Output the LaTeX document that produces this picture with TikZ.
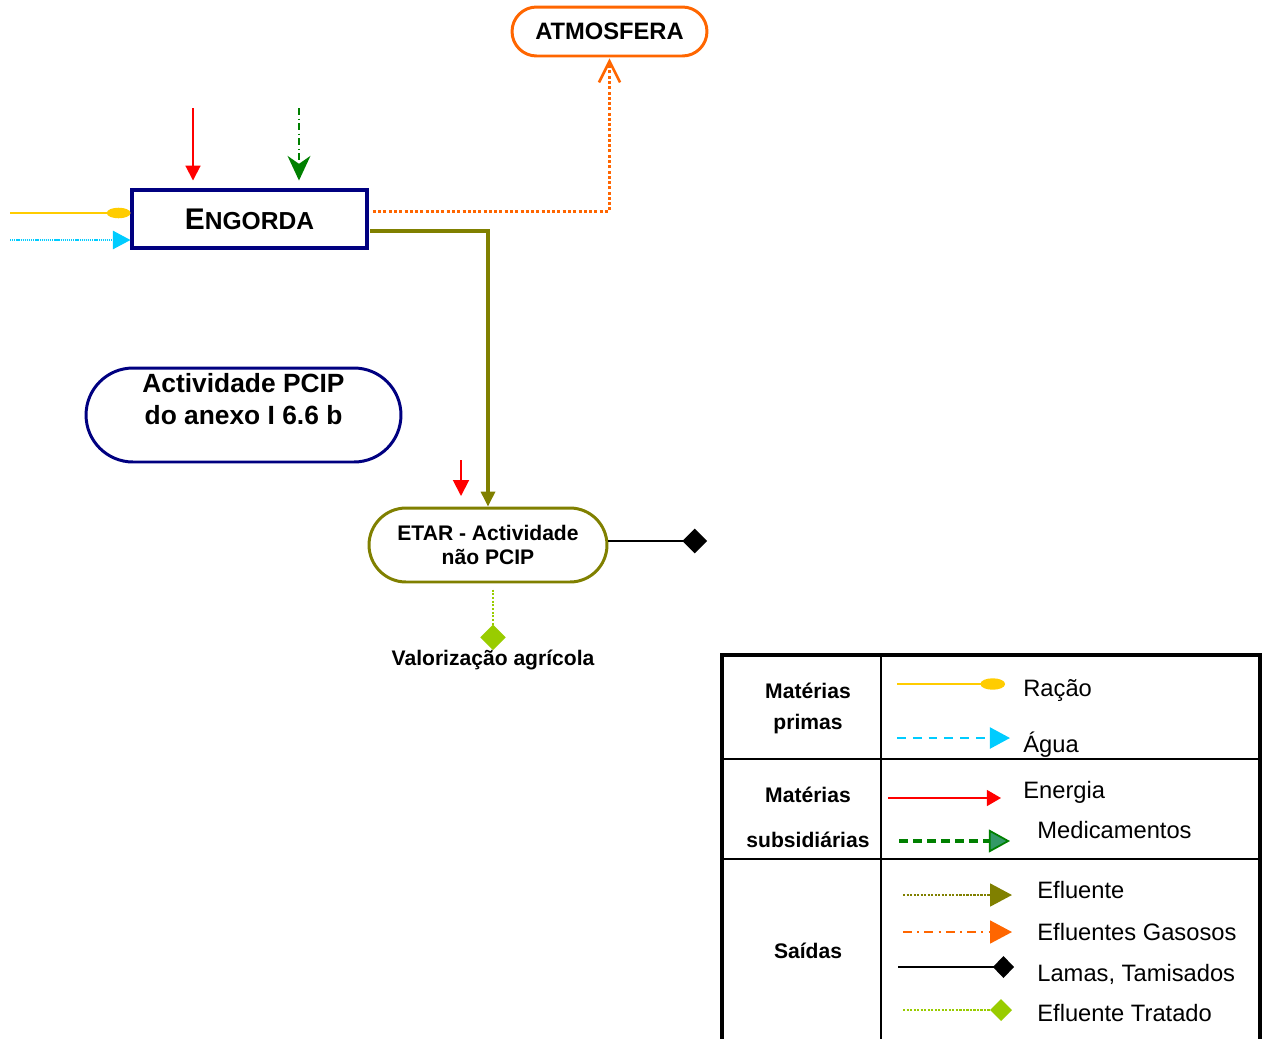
\documentclass[tikz,border=0pt]{standalone}
\usepackage{fontspec}
\setmainfont{Liberation Sans}
\usetikzlibrary{arrows.meta,positioning,shapes.misc}
\definecolor{NavyLine}{HTML}{000080}
\definecolor{GasOrange}{HTML}{FF6600}
\definecolor{EffOlive}{HTML}{808000}
\definecolor{FeedGold}{HTML}{FFCC00}
\definecolor{WaterCyan}{HTML}{00CCFF}
\definecolor{MedGreen}{HTML}{008000}
\definecolor{MedFill}{HTML}{339966}
\definecolor{TreatedGreen}{HTML}{99CC00}

\begin{document}
\begin{tikzpicture}[x=0.02cm, y=-0.02cm, every node/.style={font=\bfseries, align=center, inner sep=0pt},
    pill/.style={draw, rounded rectangle, line width=1.7pt, fill=white},
    legtext/.style={font=\fontsize{13.5}{15}\selectfont, anchor=base west},
    racao/.style={FeedGold, line width=0.9pt, -{Ellipse[length=13.5pt, width=6pt]}},
    agua/.style={WaterCyan, line width=0.7pt, dash pattern=on 0.7pt off 0.5pt, -{Triangle[length=10pt, width=10.5pt]}},
    energia/.style={red, line width=1.1pt, -{Triangle[length=8.5pt, width=8.5pt]}},
    medic/.style={MedGreen, line width=1.1pt, dash pattern=on 4pt off 2pt on 0.6pt off 2pt, -{Stealth[length=14pt, width=13pt, inset=4.5pt]}},
    efluente/.style={EffOlive, line width=1.8pt, -{Triangle[length=8.5pt, width=8pt]}},
    gasoso/.style={GasOrange, line width=1.7pt, dash pattern=on 1.7pt off 1.3pt, -{Straight Barb[length=12pt, width=12pt, line width=1.5pt]}},
    lamas/.style={black, line width=1.1pt, -{Turned Square[length=14pt, width=14pt]}},
    tratado/.style={TreatedGreen, line width=1.1pt, dash pattern=on 1.1pt off 1pt, -{Turned Square[length=14.5pt, width=14.5pt]}}]
    \useasboundingbox (0,0) rectangle (1263,1038);
    % process nodes
    \node[draw=NavyLine, line width=1.8pt, minimum width=4.7cm, minimum height=1.16cm] (engorda) at (249.5,219) {\fontsize{17}{19}\selectfont E\fontsize{14}{16}\selectfont NGORDA};
    \node[pill, draw=GasOrange, minimum width=3.9cm, minimum height=0.98cm, font=\bfseries\fontsize{13.5}{16}\selectfont] (atmos) at (609.5,31.5) {ATMOSFERA};
    \node[pill, draw=NavyLine, minimum width=6.3cm, minimum height=1.88cm, font=\bfseries\fontsize{15}{18.1}\selectfont] (pcip) at (243.5,415) {Actividade PCIP\\do anexo I 6.6 b\\~};
    \node[pill, draw=EffOlive, minimum width=4.76cm, minimum height=1.48cm, font=\bfseries\fontsize{12}{13.6}\selectfont] (etar) at (488,545) {ETAR - Actividade\\não PCIP};
    \node[font=\bfseries\fontsize{12}{14}\selectfont, anchor=north] (valor) at (493,650) {Valorização agrícola};
    % free ends
    \coordinate (racaoIn) at (10,213);
    \coordinate (aguaIn) at (10,240);
    \coordinate (energiaIn) at (193,108);
    \coordinate (medIn) at (299,108);
    \coordinate (etarEnIn) at (461,460);
    \coordinate (etarEnEnd) at (461,496);
    \coordinate (lamasEnd) at (707,541);
    % connectors
    \draw[racao] (racaoIn) -- (racaoIn -| engorda.west);
    \draw[agua] (aguaIn) -- (aguaIn -| engorda.west);
    \draw[energia, shorten >=4.5pt] (energiaIn) -- (energiaIn |- engorda.north);
    \draw[medic, shorten >=4.5pt] (medIn) -- (medIn |- engorda.north);
    \draw[gasoso, shorten <=2.5pt, shorten >=0.5pt] ([yshift=4.5pt]engorda.east) -| (atmos.south);
    \draw[efluente, shorten <=1pt] ([yshift=-6.8pt]engorda.east) -| (etar.north);
    \draw[energia, -{Triangle[length=9pt, width=9pt]}] (etarEnIn) -- (etarEnEnd);
    \draw[lamas] (lamasEnd -| etar.east) -- (lamasEnd);
    \draw[tratado, shorten <=3.5pt] (valor.north |- etar.south) -- (valor.north);
    % legend table
    \draw[line width=2.6pt] (722,1045) -- (722,655) -- (1260,655) -- (1260,1045);
    \draw[line width=1.1pt] (881,655) -- (881,1045);
    \draw[line width=1.1pt] (722,759) -- (1260,759);
    \draw[line width=1.1pt] (722,859) -- (1260,859);
    \node[font=\bfseries\fontsize{12}{17.6}\selectfont] (lgPrimas) at (808,708) {Matérias\\primas};
    \node[font=\bfseries\fontsize{12}{14.4}\selectfont] (lgSubs) at (808,817.5) {Matérias\\[11pt]subsidiárias};
    \node[font=\bfseries\fontsize{12}{14.4}\selectfont] (lgSaidas) at (808,951) {Saídas};
    \node[legtext] (lgRacao) at (1023,696) {Ração};
    \node[legtext] (lgAgua) at (1023,752) {Água};
    \node[legtext] (lgEnergia) at (1023,798) {Energia};
    \node[legtext] (lgMedic) at (1037,838) {Medicamentos};
    \node[legtext] (lgEfluente) at (1037,898) {Efluente};
    \node[legtext] (lgGasoso) at (1037,940) {Efluentes Gasosos};
    \node[legtext] (lgLamas) at (1037,981) {Lamas, Tamisados};
    \node[legtext] (lgTratado) at (1037,1021) {Efluente Tratado};
    \coordinate (lgRacaoA) at (897,684);   \coordinate (lgRacaoB) at (1005,684);
    \coordinate (lgAguaA) at (897,738);    \coordinate (lgAguaB) at (1010,738);
    \coordinate (lgEnergiaA) at (888,798); \coordinate (lgEnergiaB) at (1001,798);
    \coordinate (lgMedicA) at (899,841);   \coordinate (lgMedicB) at (1010,841);
    \coordinate (lgEfluenteA) at (903,895); \coordinate (lgEfluenteB) at (1012,895);
    \coordinate (lgGasosoA) at (903,932);  \coordinate (lgGasosoB) at (1012,932);
    \coordinate (lgLamasA) at (898,967);   \coordinate (lgLamasB) at (1014,967);
    \coordinate (lgTratadoA) at (903,1010); \coordinate (lgTratadoB) at (1012,1010);
    \draw[racao, -{Ellipse[length=14pt, width=6.5pt]}] (lgRacaoA) -- (lgRacaoB);
    \draw[agua, line width=1.4pt, dash pattern=on 5pt off 4pt, -{Triangle[length=11.5pt, width=12pt]}] (lgAguaA) -- (lgAguaB);
    \draw[energia, -{Triangle[length=8pt, width=9pt]}] (lgEnergiaA) -- (lgEnergiaB);
    \draw[MedGreen, line width=2pt, dash pattern=on 5pt off 3pt, -{Triangle[length=12pt, width=13pt, fill=MedFill, line width=1pt]}] (lgMedicA) -- (lgMedicB);
    \draw[EffOlive, line width=1.3pt, dash pattern=on 1.3pt off 0.7pt, -{Triangle[length=12.5pt, width=13pt]}] (lgEfluenteA) -- (lgEfluenteB);
    \draw[GasOrange, line width=1.2pt, dash pattern=on 5pt off 3pt on 1.2pt off 3pt, -{Triangle[length=12.5pt, width=13pt]}] (lgGasosoA) -- (lgGasosoB);
    \draw[lamas, -{Turned Square[length=12pt, width=12.5pt]}] (lgLamasA) -- (lgLamasB);
    \draw[tratado, line width=1.3pt, dash pattern=on 1.3pt off 0.7pt, -{Turned Square[length=12.5pt, width=12.5pt]}] (lgTratadoA) -- (lgTratadoB);
\end{tikzpicture}
\end{document}
